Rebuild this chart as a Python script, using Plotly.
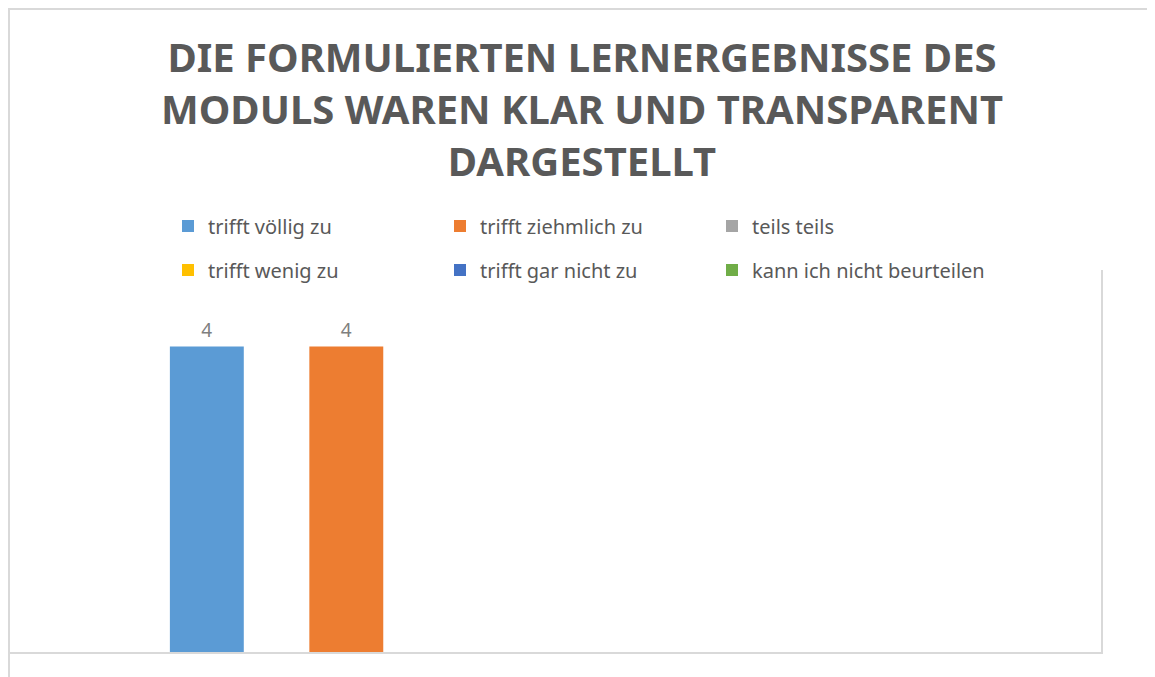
import plotly.graph_objects as go

# Umfrage-Ergebnis: eine Frage, sechs Antwortkategorien
TITLE = "DIE FORMULIERTEN LERNERGEBNISSE DES<br>MODULS WAREN KLAR UND TRANSPARENT<br>DARGESTELLT"
CATEGORY = ["Frage 1"]
ANSWERS = [
    "trifft völlig zu",
    "trifft ziehmlich zu",
    "teils teils",
    "trifft wenig zu",
    "trifft gar nicht zu",
    "kann ich nicht beurteilen",
]
COUNTS = [4, 4, None, None, None, None]
COLORS = ["#5B9BD5", "#ED7D31", "#A5A5A5", "#FFC000", "#4472C4", "#70AD47"]

W, H = 1155, 677
ML, MR, MT, MB = 2, 62, 262, 33
PW = W - ML - MR
PH = H - MT - MB

FONT = "Noto Sans"
TEXT_COLOR = "#595959"
BORDER = "#D9D9D9"

fig = go.Figure()

for i, (name, val, col) in enumerate(zip(ANSWERS, COUNTS, COLORS)):
    fig.add_trace(go.Bar(
        x=CATEGORY,
        y=[val],
        name=name,
        marker=dict(color=col, line=dict(width=0)),
        text=[val] if val is not None else None,
        textposition="outside",
        textfont=dict(family=FONT, size=19, color="#7F7F7F"),
        cliponaxis=False,
        legend="legend" if i < 3 else "legend2",
        hoverinfo="skip",
    ))


def px_x(p):
    return (p - ML) / PW


def px_y(p):
    return 1 - (p - MT) / PH


legend_common = dict(
    orientation="h",
    xanchor="left",
    yanchor="middle",
    x=px_x(160),
    entrywidth=227,
    entrywidthmode="pixels",
    font=dict(family=FONT, size=20, color=TEXT_COLOR),
    bgcolor="rgba(0,0,0,0)",
    itemclick=False,
)

fig.update_layout(
    width=W,
    height=H,
    margin=dict(l=ML, r=MR, t=MT, b=MB),
    paper_bgcolor="white",
    plot_bgcolor="white",
    title=dict(
        text=TITLE,
        font=dict(family=FONT, size=40, color=TEXT_COLOR, weight="bold"),
        x=574 / W,
        xanchor="center",
        y=1 - 64 / H,
        yanchor="top",
        yref="container",
    ),
    barmode="group",
    bargap=0.233,
    bargroupgap=0.47,
    showlegend=True,
    legend=dict(legend_common, y=px_y(218)),
    legend2=dict(legend_common, y=px_y(262)),
    xaxis=dict(
        showticklabels=False,
        showgrid=False,
        zeroline=False,
        showline=True,
        linecolor=BORDER,
        linewidth=1.5,
        ticks="",
    ),
    yaxis=dict(
        range=[0, 5],
        side="right",
        showticklabels=False,
        showgrid=False,
        zeroline=False,
        showline=True,
        linecolor=BORDER,
        linewidth=1.5,
        ticks="",
    ),
    shapes=[
        # äußerer Diagrammrahmen (oben und links)
        dict(type="line", xref="paper", yref="paper",
             x0=px_x(0), x1=px_x(W + 5), y0=px_y(1), y1=px_y(1),
             line=dict(color=BORDER, width=2)),
        dict(type="line", xref="paper", yref="paper",
             x0=px_x(1), x1=px_x(1), y0=px_y(0), y1=px_y(H + 5),
             line=dict(color=BORDER, width=2)),
    ],
)

fig.write_html("out.html")
